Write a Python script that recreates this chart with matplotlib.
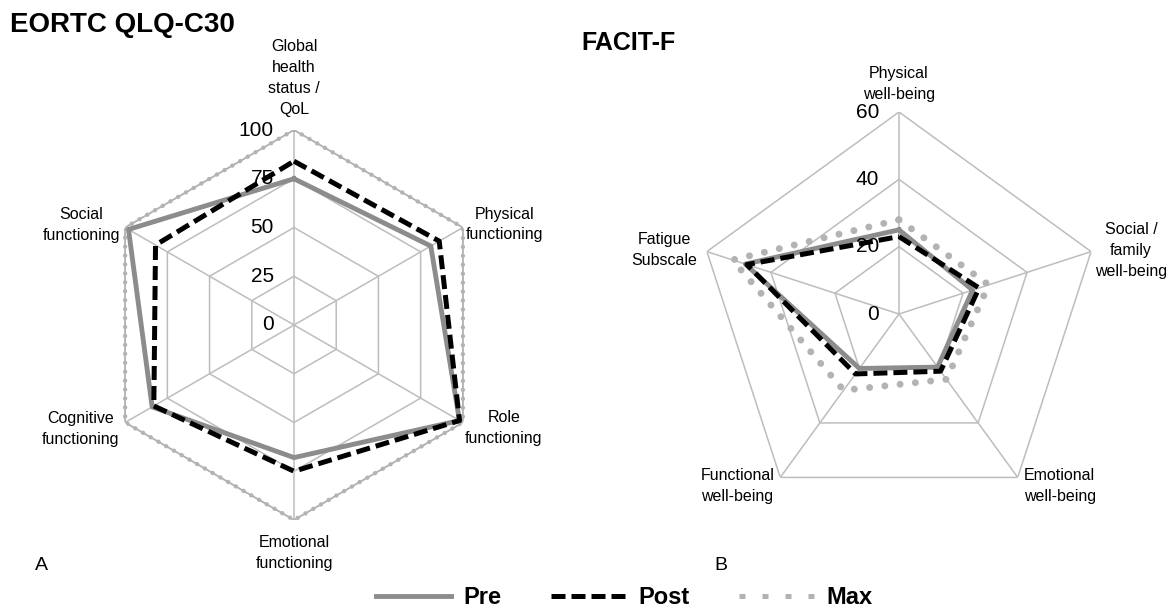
import numpy as np
import matplotlib
matplotlib.use('Agg')
import matplotlib.pyplot as plt
from matplotlib import font_manager
from matplotlib.lines import Line2D

# EORTC QLQ-C30 (left panel)
eortc_labels = ['Global\nhealth\nstatus /\nQoL', 'Physical\nfunctioning', 'Role\nfunctioning',
                'Emotional\nfunctioning', 'Cognitive\nfunctioning', 'Social\nfunctioning']
eortc_pre = [75, 81, 98, 68, 84, 98]
eortc_post = [84, 86, 98, 75, 83, 82]
eortc_max = [100, 100, 100, 100, 100, 100]
eortc_ticks = [0, 25, 50, 75, 100]

# FACIT-F (right panel)
facit_labels = ['Physical\nwell-being', 'Social /\nfamily\nwell-being', 'Emotional\nwell-being',
                'Functional\nwell-being', 'Fatigue\nSubscale']
facit_pre = [25, 23, 19.5, 20, 48]
facit_post = [23, 25, 21, 22, 47.5]
facit_max = [28, 28, 24, 28, 52]
facit_ticks = [0, 20, 40, 60]

series_names = ['Pre', 'Post', 'Max']

avail = {f.name for f in font_manager.fontManager.ttflist}
narrow = 'Liberation Sans Narrow' in avail
lab_font = 'Liberation Sans Narrow' if narrow else 'Liberation Sans'
lab_fs = 13 if narrow else 11.5
tick_fs = 17 if narrow else 15
plt.rcParams['font.family'] = ['Liberation Sans', 'DejaVu Sans']

GRID = '#bdbdbd'
PRE_C = '#8c8c8c'
MAX_C = '#b3b3b3'

fig = plt.figure(figsize=(11.69, 6.08), dpi=100)


def radar(center, radius, labels, pre, post, mx, ticks, offsets, dense_max):
    W, H = 1169, 608
    cx, cy = center
    rect = [(cx - radius) / W, 1 - (cy + radius) / H, 2 * radius / W, 2 * radius / H]
    ax = fig.add_axes(rect, projection='polar')
    n = len(labels)
    rmax = ticks[-1]
    theta = np.linspace(0, 2 * np.pi, n, endpoint=False)
    ax.set_theta_offset(np.pi / 2)
    ax.set_theta_direction(-1)
    ax.set_ylim(0, rmax)
    ax.axis('off')
    tc = np.append(theta, theta[0])

    for r in ticks[1:]:
        ax.plot(tc, [r] * (n + 1), color=GRID, lw=1.1, zorder=1)
    for t in theta:
        ax.plot([t, t], [0, rmax], color=GRID, lw=1.1, zorder=1)

    mc = list(mx) + [mx[0]]
    if dense_max:
        ax.plot(tc, mc, color=MAX_C, lw=1.2, zorder=2)
        ax.plot(tc, mc, color=MAX_C, lw=3.2, linestyle=(0, (0.01, 2.0)),
                dash_capstyle='round', zorder=2)
    else:
        ax.plot(tc, mc, color=MAX_C, lw=5, linestyle=(0, (0.01, 2.2)),
                dash_capstyle='round', zorder=2)
    ax.plot(tc, list(pre) + [pre[0]], color=PRE_C, lw=3.5, zorder=3)
    ax.plot(tc, list(post) + [post[0]], color='black', lw=3.6,
            linestyle=(0, (2.8, 1.2)), zorder=4)

    for t in ticks:
        ax.annotate(str(t), xy=(0, t), xytext=(-20, 0), textcoords='offset pixels',
                    ha='right', va='center', fontsize=tick_fs, family=lab_font,
                    annotation_clip=False, zorder=5)

    for t, lbl, (dx, dy, ha, va) in zip(theta, labels, offsets):
        ax.annotate(lbl, xy=(t, rmax), xytext=(dx, dy), textcoords='offset pixels',
                    ha=ha, va=va, multialignment='center', fontsize=lab_fs,
                    family=lab_font, linespacing=1.5, annotation_clip=False)
    return ax


eortc_offsets = [(0, 13, 'center', 'bottom'), (42, 3, 'center', 'center'),
                 (41, -6, 'center', 'center'), (0, -15, 'center', 'top'),
                 (-45, -6, 'center', 'center'), (-44, 3, 'center', 'center')]
facit_offsets = [(0, 10, 'center', 'bottom'), (40, 1, 'center', 'center'),
                 (6, -9, 'left', 'center'), (-6, -9, 'right', 'center'),
                 (-10, 2, 'right', 'center')]

radar((294, 325), 195, eortc_labels, eortc_pre, eortc_post, eortc_max,
      eortc_ticks, eortc_offsets, True)
radar((899, 314), 202, facit_labels, facit_pre, facit_post, facit_max,
      facit_ticks, facit_offsets, False)

fig.text(10 / 1169, 1 - 25 / 608, 'EORTC QLQ-C30', fontsize=20, fontweight='bold',
         ha='left', va='center')
fig.text(581 / 1169, 1 - 43 / 608, 'FACIT-F', fontsize=18, fontweight='bold',
         ha='left', va='center')
fig.text(35 / 1169, 1 - 565 / 608, 'A', fontsize=14, ha='left', va='center')
fig.text(714 / 1169, 1 - 565 / 608, 'B', fontsize=14, ha='left', va='center')

handles = [Line2D([], [], color=PRE_C, lw=3.5),
           Line2D([], [], color='black', lw=3.6, linestyle=(0, (2.8, 1.2))),
           Line2D([], [], color=MAX_C, lw=3.6, linestyle=(0, (1.2, 3.4)))]
fig.legend(handles, series_names, loc='center', bbox_to_anchor=(624 / 1169, 1 - 598 / 608),
           ncol=3, frameon=False, prop={'weight': 'bold', 'size': 17},
           handlelength=3.2, handletextpad=0.5, columnspacing=2.1)

fig.savefig('out.png', dpi=100)
